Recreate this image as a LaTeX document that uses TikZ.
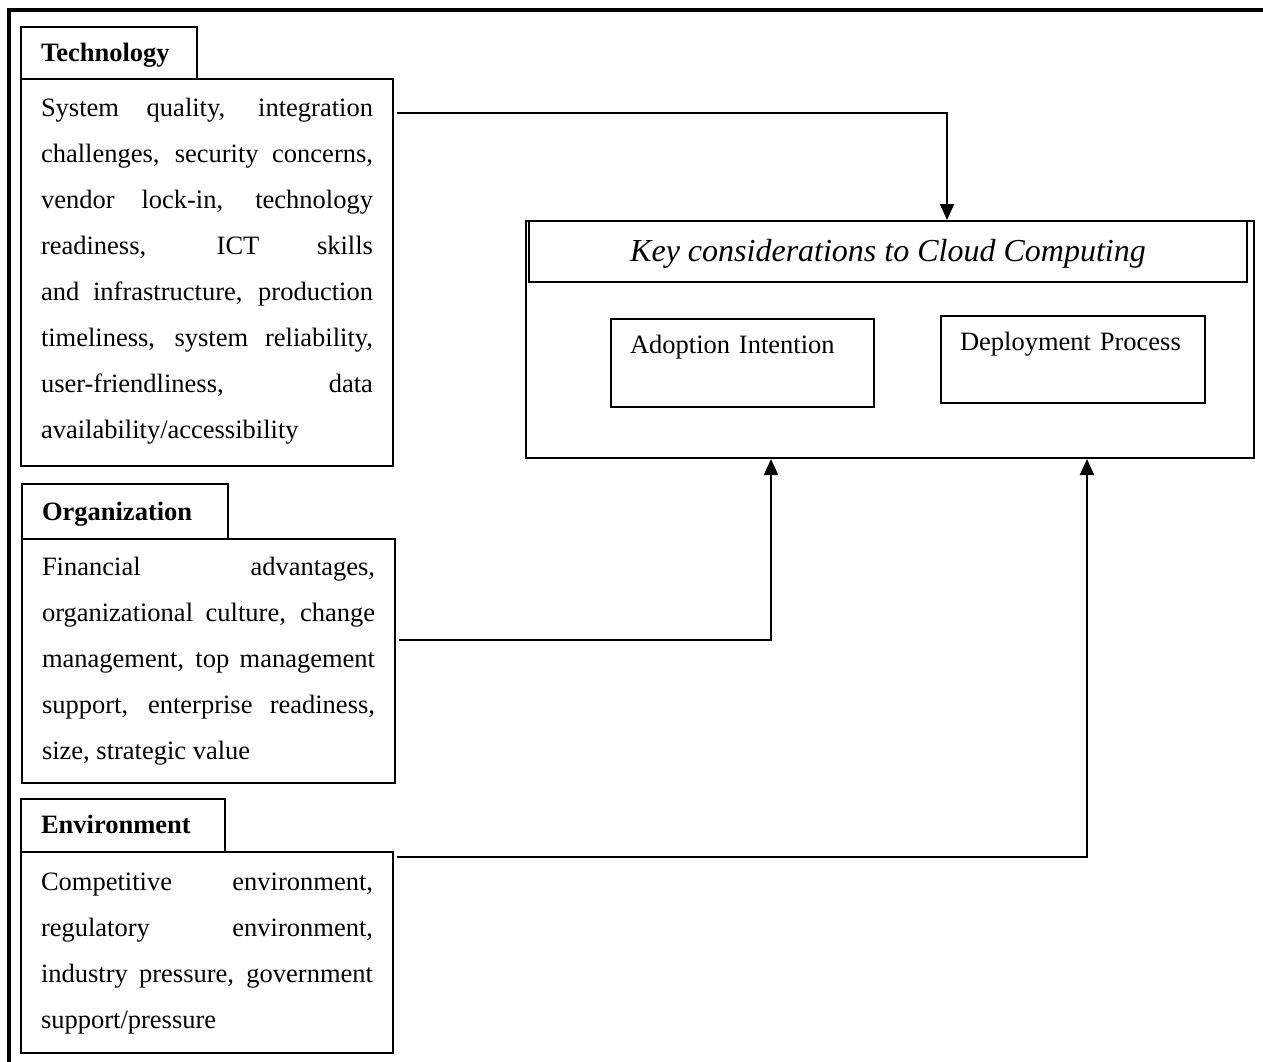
\documentclass[tikz,border=0pt]{standalone}
\usepackage{fontspec}
\setmainfont{Liberation Serif}
\usetikzlibrary{positioning, arrows.meta}
\tolerance=10000
\hyphenpenalty=10000

\begin{document}
\begin{tikzpicture}[x=1pt, y=-1pt, line width=2pt]
        \tikzstyle{tab}=[draw, outer sep=0pt, inner xsep=20pt, inner ysep=0pt, align=left, font=\bfseries\fontsize{26.5}{30}\selectfont];
        \tikzstyle{factors}=[draw, outer sep=0pt, inner xsep=20pt, inner ysep=0pt, text width=332pt, align=justify, font=\fontsize{26.5}{46}\selectfont];
        \tikzstyle{outcome}=[draw, outer sep=0pt, inner xsep=19pt, inner ysep=0pt, text width=225pt, align=left, text height=34pt, text depth=54pt, font=\fontsize{26.5}{30}\selectfont];
        \tikzstyle{link}=[-{Triangle[length=16pt,width=14pt]}, line width=2pt];

        \useasboundingbox (0,0) rectangle (1263,1062);
        \draw[line width=3.5pt] (9,1062) -- (9,10) -- (1263,10);

        % the three factor groups
        \node[tab, anchor=north west, text width=136pt, text height=35pt, text depth=17pt] (techtab) at (21,27) {Technology};
        \node[factors, text height=38pt, text depth=349pt, below right=0pt and 0pt of techtab.south west] (tech)
          {System quality, integration\linebreak challenges, security concerns,\linebreak vendor lock-in, technology\linebreak readiness, ICT skills\linebreak and infrastructure, production\linebreak timeliness, system reliability,\linebreak user-friendliness, data\linebreak availability/accessibility};

        \node[tab, below=18pt of tech.south west, anchor=north west, xshift=1pt, text width=166pt, text height=36pt, text depth=19pt] (orgtab) {Organization};
        \node[factors, text width=333pt, text height=36pt, text depth=208pt, below right=0pt and 0pt of orgtab.south west] (org)
          {Financial advantages,\linebreak organizational culture, change\linebreak management, top management\linebreak support, enterprise readiness,\linebreak size, strategic value};

        \node[tab, below=16pt of org.south west, anchor=north west, xshift=-1pt, text width=164pt, text height=34pt, text depth=19pt] (envtab) {Environment};
        \node[factors, text height=38pt, text depth=163pt, below right=0pt and 0pt of envtab.south west] (env)
          {Competitive environment,\linebreak regulatory environment,\linebreak industry pressure, government\linebreak support/pressure};

        % key considerations
        \node[draw, anchor=north west, inner sep=0pt, minimum width=728pt, minimum height=237pt] (main) at (525,220) {};
        \node[draw, outer sep=0pt, anchor=north west, inner sep=0pt, minimum width=718pt, text height=40pt, text depth=21pt, font=\itshape\fontsize{32}{36}\selectfont] (title) at (529,221) {Key considerations to Cloud Computing};
        \node[outcome, anchor=north west] (adopt) at (611,319) {Adoption Intention};
        \node[outcome, text width=226pt, text depth=53pt, right=67pt of adopt.north east, anchor=north west, yshift=3pt] (deploy) {Deployment Process};

        \draw[link] ([shift={(4pt,-34pt)}]tech.north east) -| ([xshift=57pt]main.north);
        \draw[link] ([shift={(4pt,-101pt)}]org.north east) -| ([xshift=-119pt]main.south);
        \draw[link] ([shift={(4pt,-5pt)}]env.north east) -| ([xshift=197pt]main.south);
      \end{tikzpicture}
\end{document}
